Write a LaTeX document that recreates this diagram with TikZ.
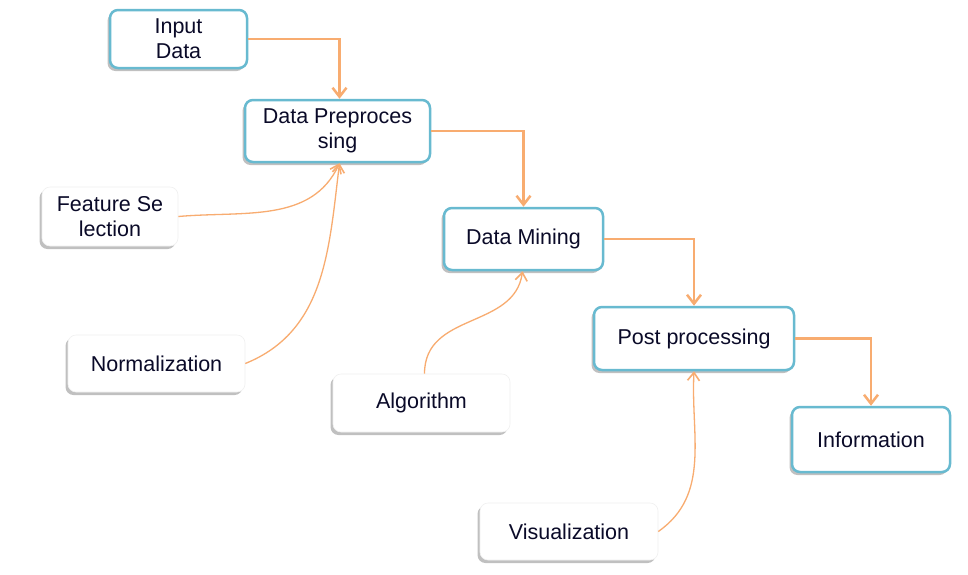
\documentclass[tikz,border=0pt]{standalone}
\usepackage{fontspec}
\setmainfont{Liberation Sans}
\usetikzlibrary{shadows,arrows.meta}
\definecolor{boxblue}{RGB}{104,186,208}
\definecolor{lineor}{RGB}{248,172,112}
\definecolor{txt}{RGB}{10,10,40}
\tikzset{
  base/.style={rounded corners=8pt, fill=white, align=center, text=txt,
    font=\fontsize{21.5}{25}\selectfont, inner sep=2pt,
    drop shadow={shadow xshift=-2.5pt, shadow yshift=-3pt, fill=black!35, opacity=.7}},
  bluebox/.style={base, draw=boxblue, line width=2.5pt},
  whitebox/.style={base, draw=black!6, line width=.6pt},
  elbow/.style={draw=lineor, line width=2.5pt, -{Straight Barb[length=9pt,width=14pt,line width=2.5pt]}},
  curve/.style={draw=lineor, line width=1.3pt, -{Straight Barb[length=8pt,width=12pt,line width=1.6pt]}}
}
\begin{document}
\begin{tikzpicture}[x=1pt,y=-1pt]
\useasboundingbox (0,0) rectangle (968,574);
\fill[white] (0,0) rectangle (968,574);
\node[bluebox, minimum width=137pt, minimum height=58pt] (in) at (178.5,39) {Input\\Data};
\node[bluebox, minimum width=185pt, minimum height=62pt] (dp) at (337.5,131) {Data Preproces\\sing};
\node[whitebox, minimum width=136pt, minimum height=59pt] (fs) at (110,216.5) {Feature Se\\lection};
\node[whitebox, minimum width=177pt, minimum height=57pt] (no) at (156.5,363.5) {Normalization};
\node[bluebox, minimum width=159pt, minimum height=62pt] (dm) at (523.5,239) {Data Mining};
\node[whitebox, minimum width=177pt, minimum height=58pt] (al) at (421.5,403) {Algorithm};
\node[bluebox, minimum width=200pt, minimum height=63pt] (pp) at (694,338.5) {Post processing};
\node[bluebox, minimum width=158pt, minimum height=65pt] (info) at (871,439.5) {Information};
\node[whitebox, minimum width=178pt, minimum height=57pt] (vi) at (569,531.5) {Visualization};

\draw[elbow] (in.east) -| ([xshift=2pt]dp.north);
\draw[elbow] (dp.east) -| (dm.north);
\draw[elbow] (dm.east) -| (pp.north);
\draw[elbow] (pp.east) -| (info.north);

\draw[curve] (fs.east) to[out=5,in=-115] ([xshift=2pt]dp.south);
\draw[curve] (no.east) to[out=22,in=-97] ([xshift=2pt]dp.south);
\draw[curve] ([xshift=3pt]al.north) .. controls +(0,-62) and +(-8,58) .. ([xshift=-1pt]dm.south);
\draw[curve] (vi.east) to[out=35,in=-93] (pp.south);
\end{tikzpicture}
\end{document}
